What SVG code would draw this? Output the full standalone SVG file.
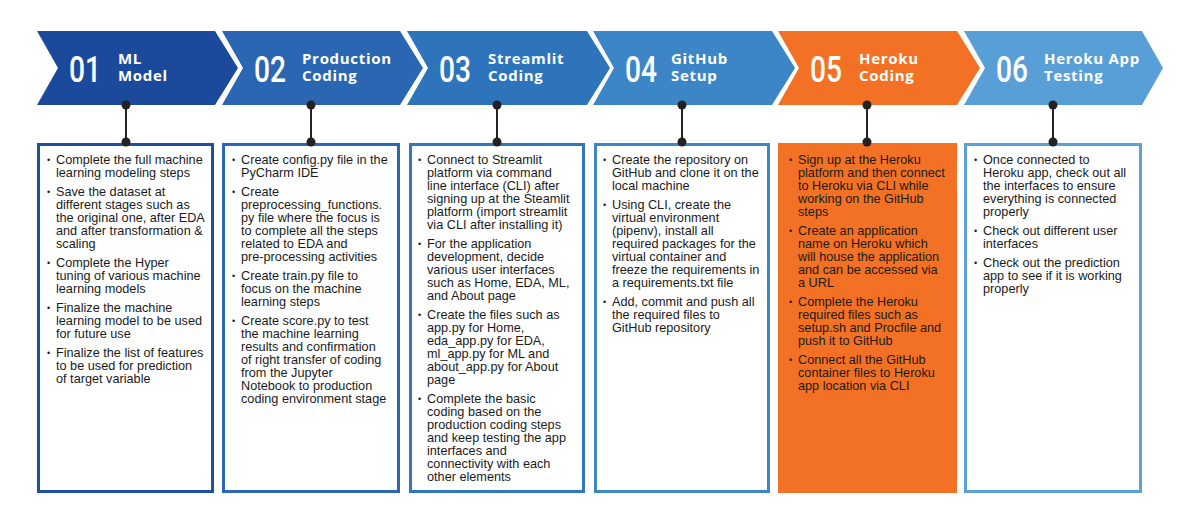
<svg xmlns="http://www.w3.org/2000/svg" width="1200" height="525" viewBox="0 0 1200 525">
<style>
.num{font-family:Roboto,"Liberation Sans",sans-serif;font-weight:500;font-size:36px;fill:#fff}
.ttl{font-family:"Open Sans","Liberation Sans",sans-serif;font-weight:700;font-size:15px;fill:#fff;letter-spacing:0.7px}
.t{font-family:"Liberation Sans",Arial,sans-serif;font-size:12.7px;fill:#1a1a1a}
.b{font-family:"Liberation Sans",Arial,sans-serif;font-size:9px;fill:#1a1a1a}
.box{fill:#fff;stroke-width:3}
.con line{stroke:#222;stroke-width:2}
.con circle{fill:#222}
</style>
<rect width="1200" height="525" fill="#fff"/>

<g id="step1">
<polygon points="37,31 215,31 238,68 215,105 37,105 58,68" fill="#1b4a9c"/>
<text class="num" x="69" y="82" textLength="32" lengthAdjust="spacingAndGlyphs">01</text>
<text class="ttl"><tspan x="118" y="64">ML</tspan><tspan x="118" y="81">Model</tspan></text>
<rect class="box" x="38.5" y="144.5" width="174" height="347" stroke="#1f4fa0"/>
<g class="b"><text x="47" y="163">•</text><text x="47" y="195">•</text><text x="47" y="266">•</text><text x="47" y="311">•</text><text x="47" y="356">•</text></g>
<text class="t"><tspan x="56" y="164">Complete the full machine</tspan><tspan x="56" y="177">learning modeling steps</tspan><tspan x="56" y="196">Save the dataset at</tspan><tspan x="56" y="209">different stages such as</tspan><tspan x="56" y="222">the original one, after EDA</tspan><tspan x="56" y="235">and after transformation &amp;</tspan><tspan x="56" y="248">scaling</tspan><tspan x="56" y="267">Complete the Hyper</tspan><tspan x="56" y="280">tuning of various machine</tspan><tspan x="56" y="293">learning models</tspan><tspan x="56" y="312">Finalize the machine</tspan><tspan x="56" y="325">learning model to be used</tspan><tspan x="56" y="338">for future use</tspan><tspan x="56" y="357">Finalize the list of features</tspan><tspan x="56" y="370">to be used for prediction</tspan><tspan x="56" y="383">of target variable</tspan></text>
</g>

<g id="step2">
<polygon points="222,31 400,31 423,68 400,105 222,105 243,68" fill="#2a66b1"/>
<text class="num" x="254" y="82" textLength="32" lengthAdjust="spacingAndGlyphs">02</text>
<text class="ttl"><tspan x="302" y="64">Production</tspan><tspan x="302" y="81">Coding</tspan></text>
<rect class="box" x="223.5" y="144.5" width="175" height="347" stroke="#2b68b3"/>
<g class="b"><text x="232" y="163">•</text><text x="232" y="195">•</text><text x="232" y="279">•</text><text x="232" y="324">•</text></g>
<text class="t"><tspan x="241" y="164">Create config.py file in the</tspan><tspan x="241" y="177">PyCharm IDE</tspan><tspan x="241" y="196">Create</tspan><tspan x="241" y="209">preprocessing_functions.</tspan><tspan x="241" y="222">py file where the focus is</tspan><tspan x="241" y="235">to complete all the steps</tspan><tspan x="241" y="248">related to EDA and</tspan><tspan x="241" y="261">pre-processing activities</tspan><tspan x="241" y="280">Create train.py file to</tspan><tspan x="241" y="293">focus on the machine</tspan><tspan x="241" y="306">learning steps</tspan><tspan x="241" y="325">Create score.py to test</tspan><tspan x="241" y="338">the machine learning</tspan><tspan x="241" y="351">results and confirmation</tspan><tspan x="241" y="364">of right transfer of coding</tspan><tspan x="241" y="377">from the Jupyter</tspan><tspan x="241" y="390">Notebook to production</tspan><tspan x="241" y="403">coding environment stage</tspan></text>
</g>

<g id="step3">
<polygon points="407,31 587,31 610,68 587,105 407,105 428,68" fill="#2e74bb"/>
<text class="num" x="439" y="82" textLength="32" lengthAdjust="spacingAndGlyphs">03</text>
<text class="ttl"><tspan x="488" y="64">Streamlit</tspan><tspan x="488" y="81">Coding</tspan></text>
<rect class="box" x="410.5" y="144.5" width="173" height="347" stroke="#3077bd"/>
<g class="b"><text x="418" y="163">•</text><text x="418" y="247">•</text><text x="418" y="318">•</text><text x="418" y="402">•</text></g>
<text class="t"><tspan x="427" y="164">Connect to Streamlit</tspan><tspan x="427" y="177">platform via command</tspan><tspan x="427" y="190">line interface (CLI) after</tspan><tspan x="427" y="203">signing up at the Steamlit</tspan><tspan x="427" y="216">platform (import streamlit</tspan><tspan x="427" y="229">via CLI after installing it)</tspan><tspan x="427" y="248">For the application</tspan><tspan x="427" y="261">development, decide</tspan><tspan x="427" y="274">various user interfaces</tspan><tspan x="427" y="287">such as Home, EDA, ML,</tspan><tspan x="427" y="300">and About page</tspan><tspan x="427" y="319">Create the files such as</tspan><tspan x="427" y="332">app.py for Home,</tspan><tspan x="427" y="345">eda_app.py for EDA,</tspan><tspan x="427" y="358">ml_app.py for ML and</tspan><tspan x="427" y="371">about_app.py for About</tspan><tspan x="427" y="384">page</tspan><tspan x="427" y="403">Complete the basic</tspan><tspan x="427" y="416">coding based on the</tspan><tspan x="427" y="429">production coding steps</tspan><tspan x="427" y="442">and keep testing the app</tspan><tspan x="427" y="455">interfaces and</tspan><tspan x="427" y="468">connectivity with each</tspan><tspan x="427" y="481">other elements</tspan></text>
</g>

<g id="step4">
<polygon points="593,31 772,31 795,68 772,105 593,105 614,68" fill="#3c86c7"/>
<text class="num" x="625" y="82" textLength="32" lengthAdjust="spacingAndGlyphs">04</text>
<text class="ttl"><tspan x="671" y="64">GitHub</tspan><tspan x="671" y="81">Setup</tspan></text>
<rect class="box" x="595.5" y="144.5" width="173" height="347" stroke="#3f86c6"/>
<g class="b"><text x="603" y="163">•</text><text x="603" y="208">•</text><text x="603" y="305">•</text></g>
<text class="t"><tspan x="612" y="164">Create the repository on</tspan><tspan x="612" y="177">GitHub and clone it on the</tspan><tspan x="612" y="190">local machine</tspan><tspan x="612" y="209">Using CLI, create the</tspan><tspan x="612" y="222">virtual environment</tspan><tspan x="612" y="235">(pipenv), install all</tspan><tspan x="612" y="248">required packages for the</tspan><tspan x="612" y="261">virtual container and</tspan><tspan x="612" y="274">freeze the requirements in</tspan><tspan x="612" y="287">a requirements.txt file</tspan><tspan x="612" y="306">Add, commit and push all</tspan><tspan x="612" y="319">the required files to</tspan><tspan x="612" y="332">GitHub repository</tspan></text>
</g>

<g id="step5">
<polygon points="778,31 957,31 980,68 957,105 778,105 799,68" fill="#f37124"/>
<text class="num" x="810" y="82" textLength="32" lengthAdjust="spacingAndGlyphs">05</text>
<text class="ttl"><tspan x="859" y="64">Heroku</tspan><tspan x="859" y="81">Coding</tspan></text>
<rect x="778" y="143" width="179" height="350" fill="#f37124"/>
<g class="b"><text x="789" y="163">•</text><text x="789" y="234">•</text><text x="789" y="305">•</text><text x="789" y="363">•</text></g>
<text class="t"><tspan x="798" y="164">Sign up at the Heroku</tspan><tspan x="798" y="177">platform and then connect</tspan><tspan x="798" y="190">to Heroku via CLI while</tspan><tspan x="798" y="203">working on the GitHub</tspan><tspan x="798" y="216">steps</tspan><tspan x="798" y="235">Create an application</tspan><tspan x="798" y="248">name on Heroku which</tspan><tspan x="798" y="261">will house the application</tspan><tspan x="798" y="274">and can be accessed via</tspan><tspan x="798" y="287">a URL</tspan><tspan x="798" y="306">Complete the Heroku</tspan><tspan x="798" y="319">required files such as</tspan><tspan x="798" y="332">setup.sh and Procfile and</tspan><tspan x="798" y="345">push it to GitHub</tspan><tspan x="798" y="364">Connect all the GitHub</tspan><tspan x="798" y="377">container files to Heroku</tspan><tspan x="798" y="390">app location via CLI</tspan></text>
</g>

<g id="step6">
<polygon points="964,31 1142,31 1163,68 1142,105 964,105 985,68" fill="#599fd7"/>
<text class="num" x="996" y="82" textLength="32" lengthAdjust="spacingAndGlyphs">06</text>
<text class="ttl"><tspan x="1044" y="64">Heroku App</tspan><tspan x="1044" y="81">Testing</tspan></text>
<rect class="box" x="965.5" y="144.5" width="175" height="347" stroke="#5aa1d8"/>
<g class="b"><text x="974" y="163">•</text><text x="974" y="234">•</text><text x="974" y="266">•</text></g>
<text class="t"><tspan x="983" y="164">Once connected to</tspan><tspan x="983" y="177">Heroku app, check out all</tspan><tspan x="983" y="190">the interfaces to ensure</tspan><tspan x="983" y="203">everything is connected</tspan><tspan x="983" y="216">properly</tspan><tspan x="983" y="235">Check out different user</tspan><tspan x="983" y="248">interfaces</tspan><tspan x="983" y="267">Check out the prediction</tspan><tspan x="983" y="280">app to see if it is working</tspan><tspan x="983" y="293">properly</tspan></text>
</g>

<g id="connectors" class="con">
<line x1="126" y1="105" x2="126" y2="142"/><circle cx="126" cy="105" r="4.5"/><circle cx="126" cy="142" r="4.5"/>
<line x1="311" y1="105" x2="311" y2="142"/><circle cx="311" cy="105" r="4.5"/><circle cx="311" cy="142" r="4.5"/>
<line x1="497" y1="105" x2="497" y2="142"/><circle cx="497" cy="105" r="4.5"/><circle cx="497" cy="142" r="4.5"/>
<line x1="682" y1="105" x2="682" y2="142"/><circle cx="682" cy="105" r="4.5"/><circle cx="682" cy="142" r="4.5"/>
<line x1="867" y1="105" x2="867" y2="142"/><circle cx="867" cy="105" r="4.5"/><circle cx="867" cy="142" r="4.5"/>
<line x1="1053" y1="105" x2="1053" y2="142"/><circle cx="1053" cy="105" r="4.5"/><circle cx="1053" cy="142" r="4.5"/>
</g>
</svg>
